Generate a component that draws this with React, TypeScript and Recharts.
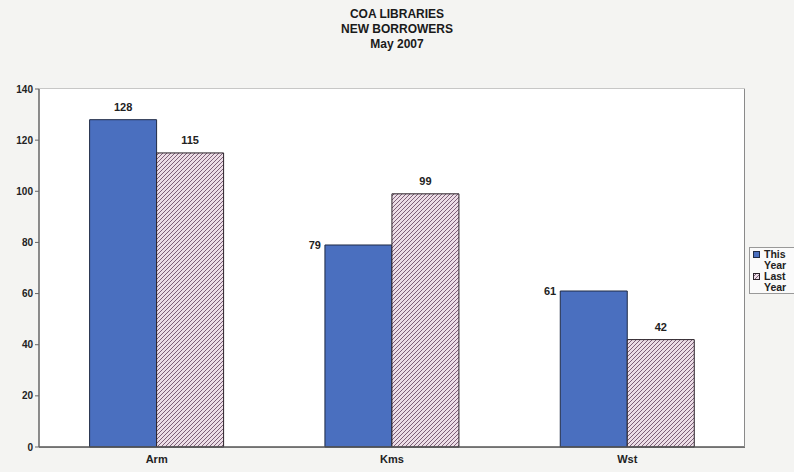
import React from 'react';
import { BarChart, Bar, XAxis, YAxis, CartesianGrid, LabelList } from 'recharts';

const branches = ['Arm', 'Kms', 'Wst'];
const thisYear = [128, 79, 61];
const lastYear = [115, 99, 42];
const yTicks = [0, 20, 40, 60, 80, 100, 120, 140];
const titleLines = ['COA LIBRARIES', 'NEW BORROWERS', 'May 2007'];

const rows = branches.map((b, i) => ({ branch: b, thisYear: thisYear[i], lastYear: lastYear[i] }));

const FONT = '"Liberation Sans Narrow", "Liberation Sans", Arial, sans-serif';

// "This Year" labels for Kms and Wst sit to the left of the bar top, as in the original sheet
const ThisYearLabel = (props: any) => {
  const { x, y, width, value, index } = props;
  if (index === 0) {
    return (
      <text x={x + width / 2} y={y - 9} textAnchor="middle" fontSize={11} fontWeight="bold" fill="#222" fontFamily={FONT}>
        {value}
      </text>
    );
  }
  return (
    <text x={x - 4} y={y + 4} textAnchor="end" fontSize={11} fontWeight="bold" fill="#222" fontFamily={FONT}>
      {value}
    </text>
  );
};

const LastYearLabel = (props: any) => {
  const { x, y, width, value } = props;
  return (
    <text x={x + width / 2} y={y - 9} textAnchor="middle" fontSize={11} fontWeight="bold" fill="#222" fontFamily={FONT}>
      {value}
    </text>
  );
};

export default function App() {
  return (
    <div style={{ position: 'fixed', left: 0, top: 0, width: 794, height: 472, background: '#f4f4f2', overflow: 'hidden' }}>
      <div style={{ position: 'absolute', left: 0, top: 7, width: 794, textAlign: 'center', fontFamily: FONT, fontWeight: 'bold', fontSize: 12, lineHeight: '15px', color: '#1a1a1a' }}>
        {titleLines.map((t) => (
          <div key={t}>{t}</div>
        ))}
      </div>

      <BarChart
        width={794}
        height={472}
        data={rows}
        margin={{ top: 89, right: 49, bottom: 0, left: 0 }}
        barCategoryGap="21.5%"
        barGap={0}
        style={{ position: 'absolute', left: 0, top: 0 }}
      >
        <defs>
          <pattern id="hatch" width="4" height="4" patternUnits="userSpaceOnUse">
            <rect width="4" height="4" fill="#ecdde6" />
            <path d="M0,4 L4,0 M-1,1 L1,-1 M3,5 L5,3" stroke="#7d6078" strokeWidth="1" />
          </pattern>
        </defs>
        <rect x={39} y={89} width={706} height={358} fill="#ffffff" />
        <CartesianGrid vertical={false} stroke="#9a9a9a" strokeWidth={1} />
        <XAxis
          dataKey="branch"
          height={25}
          tickLine={false}
          axisLine={{ stroke: '#555', strokeWidth: 1.5 }}
          tick={{ fontSize: 11, fontWeight: 'bold', fill: '#222', fontFamily: FONT }}
          tickMargin={2}
        />
        <YAxis
          width={39}
          domain={[0, 140]}
          ticks={yTicks}
          interval={0}
          axisLine={{ stroke: '#666', strokeWidth: 1.5 }}
          tickLine={{ stroke: '#666' }}
          tickSize={4}
          tick={{ fontSize: 10, fontWeight: 'bold', fill: '#222', fontFamily: FONT }}
        />
        <Bar dataKey="thisYear" fill="#4a6fbf" stroke="#1f2a44" strokeWidth={1} isAnimationActive={false}>
          <LabelList dataKey="thisYear" content={ThisYearLabel} />
        </Bar>
        <Bar dataKey="lastYear" fill="url(#hatch)" stroke="#2a2228" strokeWidth={1} isAnimationActive={false}>
          <LabelList dataKey="lastYear" content={LastYearLabel} />
        </Bar>
      </BarChart>

      {/* right border of the plot area */}
      <div style={{ position: 'absolute', left: 744, top: 89, width: 1, height: 358, background: '#8a8a8a' }} />

      {/* legend box at the right page edge */}
      <div style={{ position: 'absolute', left: 749, top: 247, width: 44, height: 45, borderTop: '1px solid #999', borderLeft: '1px solid #999', borderBottom: '1px solid #999', background: '#fafafa', fontFamily: FONT, fontWeight: 'bold', fontSize: 10.5, lineHeight: '11px', color: '#222', overflow: 'hidden' }}>
        <div style={{ position: 'relative', paddingLeft: 14, paddingTop: 1 }}>
          <span style={{ position: 'absolute', left: 3, top: 3, width: 7, height: 7, background: '#4a6fbf', border: '1px solid #1f2a44', boxSizing: 'border-box' }} />
          This
          <br />
          Year
        </div>
        <div style={{ position: 'relative', paddingLeft: 14, paddingTop: 0 }}>
          <svg width={7} height={7} style={{ position: 'absolute', left: 3, top: 2 }}>
            <rect x={0.5} y={0.5} width={6} height={6} fill="url(#hatch)" stroke="#2a2228" />
          </svg>
          Last
          <br />
          Year
        </div>
      </div>
    </div>
  );
}
